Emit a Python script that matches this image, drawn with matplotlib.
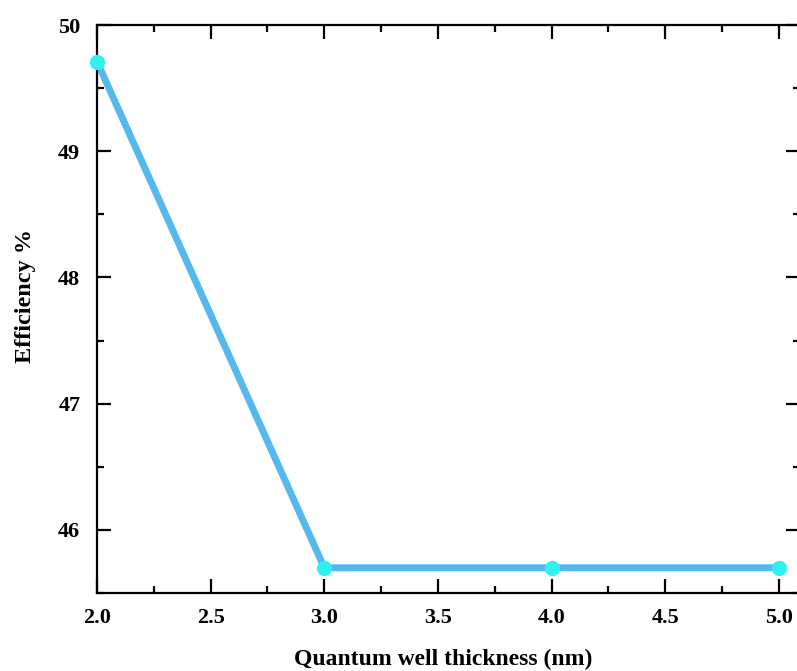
import numpy as np
from matplotlib import pyplot as plt
from matplotlib.ticker import MultipleLocator

thickness = [2.0, 3.0, 4.0, 5.0]
efficiency = [49.71, 45.70, 45.70, 45.70]

plt.rcParams['font.family'] = ['Liberation Serif', 'DejaVu Serif']
plt.rcParams['font.weight'] = 'bold'

fig = plt.figure(figsize=(7.97, 6.71), dpi=100)
W, H = 797, 671
# axes box in pixels: left 97, right ~800 (cut off), top 25, bottom 593
ax = fig.add_axes([97 / W, (H - 593) / H, (800 - 97) / W, (593 - 25) / H])

ax.plot(thickness, efficiency, color='#55b9ee', lw=5, zorder=2,
        solid_capstyle='round', solid_joinstyle='round')
ax.plot(thickness, efficiency, 'o', color='#33f0f0', ms=11, mec='none',
        zorder=3, clip_on=False)

ax.set_xlim(2.0, 5.093)
ax.set_ylim(45.5, 50.0)
ax.xaxis.set_minor_locator(MultipleLocator(0.25))
ax.yaxis.set_minor_locator(MultipleLocator(0.5))
ax.set_xticks([2.0, 2.5, 3.0, 3.5, 4.0, 4.5, 5.0])
ax.set_xticklabels(['2.0', '2.5', '3.0', '3.5', '4.0', '4.5', '5.0'])
ax.set_yticks([46, 47, 48, 49, 50])

for s in ax.spines.values():
    s.set_linewidth(1.6)
ax.tick_params(which='both', direction='in', top=True, right=True,
               width=1.6, labelsize=16)
ax.tick_params(axis='x', pad=11)
ax.tick_params(axis='y', pad=12)
ax.tick_params(which='major', length=10)
ax.tick_params(which='minor', length=5)
for lab in ax.get_xticklabels() + ax.get_yticklabels():
    lab.set_fontweight('bold')

ax.set_xlabel('Quantum well thickness (nm)', fontsize=17, fontweight='bold')
ax.set_ylabel('Efficiency %', fontsize=17.5, fontweight='bold')
ax.xaxis.set_label_coords(0.492, -0.098)
ax.yaxis.set_label_coords(-0.087, 0.523)

fig.savefig('out.png', dpi=100)
